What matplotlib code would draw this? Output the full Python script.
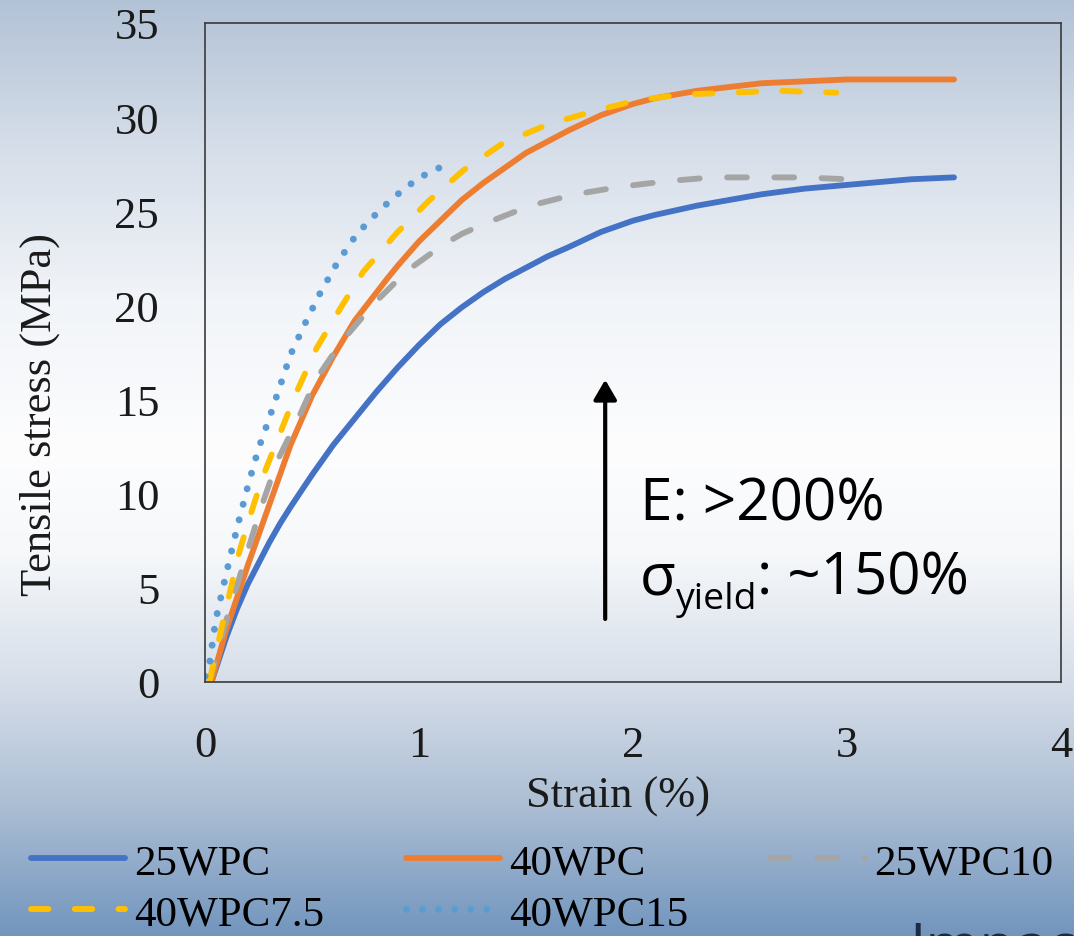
import numpy as np
import matplotlib.pyplot as plt
from matplotlib.patches import FancyArrowPatch

# ---- data ----
strain_25wpc = [0.03, 0.1, 0.15, 0.2, 0.25, 0.3, 0.35, 0.4, 0.5, 0.6, 0.7, 0.8, 0.9, 1.0, 1.1, 1.2, 1.3, 1.4, 1.5,
                1.6, 1.7, 1.85, 2.0, 2.1, 2.3, 2.45, 2.6, 2.8, 3.1, 3.3, 3.5]
stress_25wpc = [0, 2.4, 3.9, 5.2, 6.3, 7.4, 8.4, 9.3, 11.0, 12.6, 14.0, 15.4, 16.7, 17.9, 19.0, 19.9, 20.7, 21.4, 22.0,
                22.6, 23.1, 23.9, 24.5, 24.8, 25.3, 25.6, 25.9, 26.2, 26.5, 26.7, 26.8]

strain_40wpc = [0.03, 0.1, 0.2, 0.3, 0.4, 0.5, 0.6, 0.7, 0.85, 0.9, 1.0, 1.1, 1.2, 1.3, 1.4, 1.5, 1.6, 1.7, 1.85,
                2.0, 2.1, 2.3, 2.45, 2.6, 2.8, 3.0, 3.2, 3.5]
stress_40wpc = [0, 2.8, 6.2, 9.4, 12.6, 15.2, 17.3, 19.2, 21.4, 22.1, 23.4, 24.5, 25.6, 26.5, 27.3, 28.1, 28.7, 29.3, 30.1,
                30.7, 31.0, 31.4, 31.6, 31.8, 31.9, 32.0, 32.0, 32.0]

strain_25wpc10 = [0.02, 0.1, 0.2, 0.26, 0.34, 0.44, 0.52, 0.64, 0.79, 0.94, 1.0, 1.11, 1.2, 1.32, 1.52, 1.73, 1.94,
                  2.16, 2.37, 2.59, 2.8, 3.0]
stress_25wpc10 = [0, 3.3, 7.0, 9.2, 11.8, 14.1, 16.1, 18.1, 20.1, 21.8, 22.3, 23.2, 23.8, 24.4, 25.3, 25.9, 26.3,
                  26.6, 26.8, 26.8, 26.8, 26.7]

strain_40wpc75 = [0.02, 0.08, 0.16, 0.21, 0.27, 0.34, 0.42, 0.52, 0.63, 0.74, 0.9, 1.05, 1.21, 1.39, 1.6, 1.81, 2.02,
                  2.23, 2.45, 2.68, 2.95]
stress_40wpc75 = [0, 3.0, 6.9, 8.8, 10.9, 12.9, 15.2, 17.7, 19.8, 21.8, 23.9, 25.6, 27.2, 28.6, 29.6, 30.3, 30.9,
                  31.2, 31.3, 31.4, 31.3]

strain_40wpc15 = [0.0, 0.02, 0.05, 0.1, 0.15, 0.2, 0.25, 0.3, 0.35, 0.4, 0.47, 0.54, 0.62, 0.71, 0.82, 0.9, 0.99, 1.07, 1.14]
stress_40wpc15 = [0.3, 0.9, 3.3, 5.8, 8.2, 10.4, 12.4, 14.0, 15.7, 17.4, 19.1, 20.7, 22.3, 23.8, 25.1, 25.9, 26.7, 27.2, 27.5]

x_ticks = [0, 1, 2, 3, 4]
y_ticks = [0, 5, 10, 15, 20, 25, 30, 35]

serif = 'Liberation Serif'
sans = ['Open Sans', 'DejaVu Sans']

fig = plt.figure(figsize=(10.74, 9.37), dpi=100)

# slide background gradient
stops_y = [0.0, 0.16, 0.32, 0.48, 0.59, 0.73, 0.86, 1.0]
stops_c = np.array([[178, 194, 214], [214, 222, 233], [241, 244, 248], [253, 253, 254],
                    [246, 248, 250], [214, 222, 233], [172, 190, 212], [114, 149, 190]]) / 255
yy = np.linspace(0, 1, 937)
grad = np.stack([np.interp(yy, stops_y, stops_c[:, k]) for k in range(3)], axis=-1)[:, None, :]
bg = fig.add_axes([0, 0, 1, 1], zorder=-5)
bg.imshow(grad, aspect='auto', extent=[0, 1, 0, 1])
bg.axis('off')

ax = fig.add_axes([0.1909, 0.2711, 0.7970, 0.7033])
ax.set_facecolor('none')

lw = 4.2
ax.plot(strain_25wpc, stress_25wpc, color='#4472C4', lw=lw, solid_capstyle='round', solid_joinstyle='round', label='25WPC')
ax.plot(strain_40wpc, stress_40wpc, color='#ED7D31', lw=lw, solid_capstyle='round', solid_joinstyle='round', label='40WPC')
ax.plot(strain_25wpc10, stress_25wpc10, color='#A5A5A5', lw=lw, dashes=(3.4, 4.7), dash_capstyle='round', label='25WPC10')
ax.plot(strain_40wpc75, stress_40wpc75, color='#FFC000', lw=lw, dashes=(3.0, 4.5), dash_capstyle='round', label='40WPC7.5')
ax.plot(strain_40wpc15, stress_40wpc15, color='#5B9BD5', lw=5, dashes=(0.01, 2.3), dash_capstyle='round', label='40WPC15')

ax.set_xlim(0, 4)
ax.set_ylim(0, 35)
ax.set_xticks(x_ticks)
ax.set_yticks(y_ticks)
ax.tick_params(length=0, labelsize=32, colors='#1a1a1a')
ax.tick_params(axis='x', pad=31)
ax.tick_params(axis='y', pad=33)
for lab in ax.get_xticklabels() + ax.get_yticklabels():
    lab.set_family(serif)
for s in ax.spines.values():
    s.set_color('#3a3a3a')
    s.set_linewidth(1.2)

ax.set_xlabel('Strain (%)', family=serif, fontsize=32, color='#1a1a1a')
ax.set_ylabel('Tensile stress (MPa)', family=serif, fontsize=32, color='#1a1a1a')
ax.xaxis.set_label_coords(0.4825, -0.142)
ax.yaxis.set_label_coords(-0.17, 0.407)

# arrow + annotation
arr = FancyArrowPatch((1.87, 3.2), (1.87, 16.2), arrowstyle='-|>,head_length=0.6,head_width=0.35',
                      mutation_scale=20, lw=3, color='black')
ax.add_patch(arr)

fsz = 42
fig.text(0.596, 0.445, 'E: >200%', family=sans, fontsize=fsz, color='black')
t1 = fig.text(0.596, 0.365, 'σ', family=sans, fontsize=fsz, color='black')
fig.canvas.draw()
r = fig.canvas.get_renderer()
bb = t1.get_window_extent(r)
t2 = fig.text(bb.x1 / fig.bbox.width, 0.365 - 14 / 937, 'yield', family=sans, fontsize=fsz * 0.64, color='black')
bb2 = t2.get_window_extent(r)
fig.text(bb2.x1 / fig.bbox.width, 0.365, ': ~150%', family=sans, fontsize=fsz, color='black')

# slide text cropped at the bottom edge, as in the reference
fig.text(0.847, -0.03, 'Impact', family=sans, fontsize=fsz, color='#1b2b45')

# legend (row-major order in reference)
h, l = ax.get_legend_handles_labels()
order = [0, 3, 1, 4, 2]
fig.legend([h[i] for i in order], [l[i] for i in order], loc='upper left',
           bbox_to_anchor=(31 / 1074, 1 - 844 / 937), ncol=3, frameon=False,
           prop={'family': serif, 'size': 31}, handlelength=2.19, handletextpad=0.21,
           columnspacing=1.9, labelspacing=0.28, borderpad=0, borderaxespad=0)

fig.savefig('out.png', dpi=100)
